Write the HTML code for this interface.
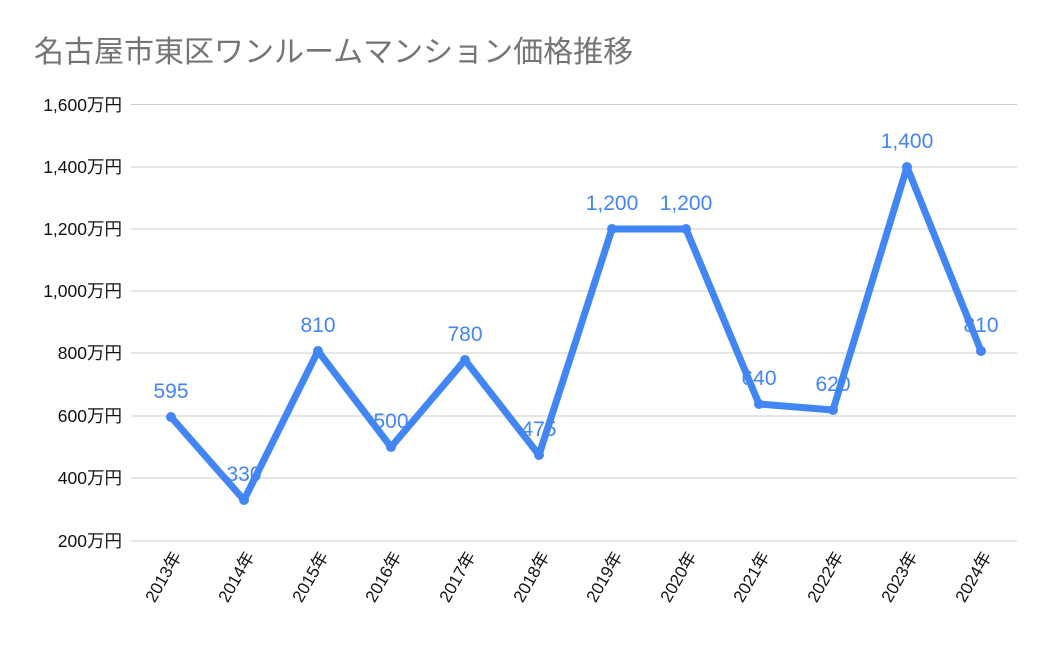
<!DOCTYPE html>
<html><head><meta charset="utf-8"><style>body{margin:0;background:#fff}</style></head><body>
<svg width="1050" height="649" xmlns="http://www.w3.org/2000/svg" font-family="Liberation Sans, Noto Sans CJK JP, sans-serif">
<rect width="1050" height="649" fill="#fff"/>
<text x="34" y="62" font-size="30" fill="#757575">名古屋市東区ワンルームマンション価格推移</text>
<g stroke="#cccccc" stroke-width="1">
<line x1="131" x2="1017" y1="104.5" y2="104.5"/><line x1="131" x2="1017" y1="167" y2="167"/>
<line x1="131" x2="1017" y1="229" y2="229"/><line x1="131" x2="1017" y1="291" y2="291"/>
<line x1="131" x2="1017" y1="353" y2="353"/><line x1="131" x2="1017" y1="416" y2="416"/>
<line x1="131" x2="1017" y1="478" y2="478"/><line x1="131" x2="1017" y1="541" y2="541"/>
</g>
<g font-size="17.5" fill="#111" text-anchor="end">
<text x="122" y="111">1,600万円</text><text x="122" y="173">1,400万円</text>
<text x="122" y="235">1,200万円</text><text x="122" y="297">1,000万円</text>
<text x="122" y="359">800万円</text><text x="122" y="422">600万円</text>
<text x="122" y="484">400万円</text><text x="122" y="547">200万円</text>
</g>
<g font-size="17" fill="#111" text-anchor="end">
<text transform="translate(182,556) rotate(-60)">2013年</text>
<text transform="translate(255,556) rotate(-60)">2014年</text>
<text transform="translate(329,556) rotate(-60)">2015年</text>
<text transform="translate(402,556) rotate(-60)">2016年</text>
<text transform="translate(476,556) rotate(-60)">2017年</text>
<text transform="translate(550,556) rotate(-60)">2018年</text>
<text transform="translate(623,556) rotate(-60)">2019年</text>
<text transform="translate(697,556) rotate(-60)">2020年</text>
<text transform="translate(770,556) rotate(-60)">2021年</text>
<text transform="translate(844,556) rotate(-60)">2022年</text>
<text transform="translate(918,556) rotate(-60)">2023年</text>
<text transform="translate(992,556) rotate(-60)">2024年</text>
</g>
<polyline fill="none" stroke="#4285f4" stroke-width="7" stroke-linejoin="round" points="171,417 244,500 318,351 391,447 465,360 539,455 612,229 686,229 759,404 833,410 907,167 981,351"/>
<g fill="#4285f4">
<circle cx="171" cy="417" r="5"/><circle cx="244" cy="500" r="5"/><circle cx="318" cy="351" r="5"/>
<circle cx="391" cy="447" r="5"/><circle cx="465" cy="360" r="5"/><circle cx="539" cy="455" r="5"/>
<circle cx="612" cy="229" r="5"/><circle cx="686" cy="229" r="5"/><circle cx="759" cy="404" r="5"/>
<circle cx="833" cy="410" r="5"/><circle cx="907" cy="167" r="5"/><circle cx="981" cy="351" r="5"/>
</g>
<g font-size="21" fill="#4285f4" text-anchor="middle">
<text x="171" y="398">595</text><text x="244" y="481">330</text><text x="318" y="332">810</text>
<text x="391" y="428">500</text><text x="465" y="341">780</text><text x="539" y="436">475</text>
<text x="612" y="210">1,200</text><text x="686" y="210">1,200</text><text x="759" y="385">640</text>
<text x="833" y="391">620</text><text x="907" y="148">1,400</text><text x="981" y="332">810</text>
</g>
</svg>
</body></html>
